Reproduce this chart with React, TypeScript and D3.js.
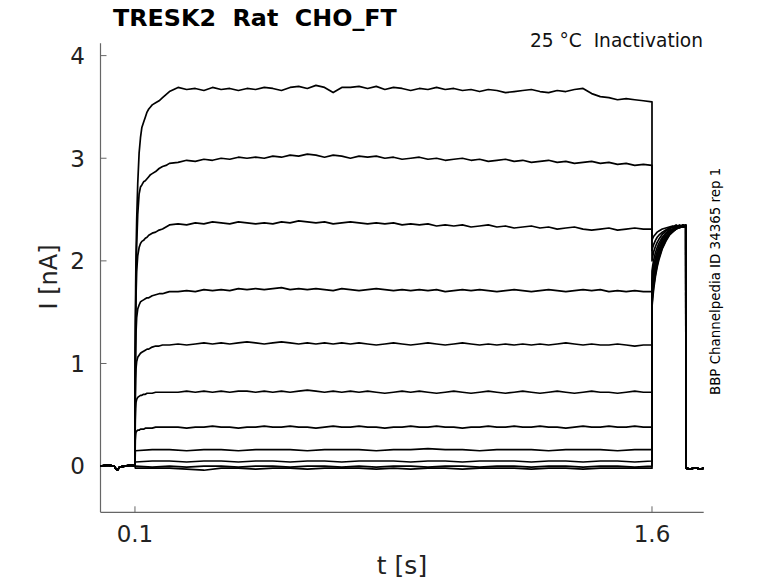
import React from 'react';
import * as d3 from 'd3';

// baseline before the step (shared by all sweeps)
const preTimes = [0, 0.02, 0.04, 0.045, 0.05, 0.055, 0.07, 0.09, 0.1];
const preValues = [0.0, 0.01, 0.0, -0.03, -0.035, -0.01, 0.0, 0.01, 0.0];

// sampling grid of the big sweeps during the step
const stepTimes = [
  0.1, 0.1005, 0.101, 0.102, 0.103, 0.105, 0.108, 0.112, 0.116, 0.12,
  0.125, 0.13, 0.135, 0.14, 0.145, 0.15, 0.16, 0.17, 0.18, 0.19, 0.2,
  0.225, 0.25, 0.275, 0.3, 0.325, 0.35, 0.375, 0.4, 0.425, 0.45,
  0.475, 0.5, 0.525, 0.55, 0.575, 0.6, 0.625, 0.65, 0.675, 0.7,
  0.725, 0.75, 0.775, 0.8, 0.825, 0.85, 0.875, 0.9, 0.925, 0.95,
  0.975, 1.0, 1.025, 1.05, 1.075, 1.1, 1.125, 1.15, 1.175, 1.2,
  1.225, 1.25, 1.275, 1.3, 1.325, 1.35, 1.375, 1.4, 1.425, 1.45,
  1.475, 1.5, 1.525, 1.55, 1.575, 1.6,
];

const sweep1 = [
  0, 0.8, 1.3, 1.75, 2.05, 2.4, 2.75, 3.05, 3.2, 3.3,
  3.35, 3.4, 3.45, 3.48, 3.5, 3.52, 3.54, 3.56, 3.59, 3.62, 3.65,
  3.69, 3.67, 3.68, 3.66, 3.69, 3.67, 3.68, 3.66, 3.68, 3.67,
  3.69, 3.68, 3.66, 3.69, 3.70, 3.68, 3.71, 3.69, 3.64, 3.69,
  3.69, 3.70, 3.68, 3.70, 3.67, 3.69, 3.68, 3.66, 3.68, 3.67,
  3.69, 3.67, 3.68, 3.66, 3.67, 3.65, 3.67, 3.66, 3.64, 3.65,
  3.66, 3.67, 3.65, 3.64, 3.66, 3.65, 3.67, 3.68, 3.63, 3.60,
  3.59, 3.57, 3.58, 3.57, 3.56, 3.55,
];
const sweep2 = [
  0, 0.7, 1.1, 1.5, 1.8, 2.15, 2.45, 2.65, 2.72, 2.74,
  2.77, 2.78, 2.8, 2.82, 2.84, 2.85, 2.87, 2.9, 2.92, 2.93, 2.95,
  2.96, 2.98, 2.97, 2.99, 2.98, 3.0, 2.99, 3.01, 3.0, 3.01,
  3.0, 3.02, 3.01, 3.03, 3.02, 3.04, 3.03, 3.01, 3.03, 3.02,
  3.0, 3.02, 3.01, 3.02, 3.0, 3.01, 2.99, 3.0, 3.01, 2.99,
  3.0, 2.98, 2.99, 3.0, 2.98, 2.99, 2.97, 2.98, 2.99, 2.97,
  2.98, 2.96, 2.97, 2.98, 2.96, 2.97, 2.95, 2.96, 2.97, 2.95,
  2.96, 2.94, 2.95, 2.93, 2.94, 2.93,
];
const sweep3 = [
  0, 0.6, 1.0, 1.4, 1.65, 1.9, 2.05, 2.13, 2.17, 2.19,
  2.2, 2.22, 2.23, 2.25, 2.26, 2.27, 2.28, 2.3, 2.31, 2.33, 2.35,
  2.36, 2.35, 2.37, 2.36, 2.38, 2.37, 2.36, 2.38, 2.37, 2.36,
  2.37, 2.36, 2.38, 2.37, 2.39, 2.38, 2.37, 2.38, 2.36, 2.37,
  2.38, 2.37, 2.36, 2.37, 2.36, 2.37, 2.35, 2.36, 2.35, 2.36,
  2.34, 2.35, 2.34, 2.35, 2.33, 2.34, 2.35, 2.33, 2.34, 2.32,
  2.33, 2.34, 2.32, 2.33, 2.31, 2.32, 2.33, 2.31, 2.30, 2.31,
  2.32, 2.30, 2.31, 2.32, 2.31, 2.31,
];
const sweep4 = [
  0, 0.5, 0.85, 1.15, 1.3, 1.45, 1.53, 1.57, 1.6, 1.61,
  1.62, 1.63, 1.64, 1.64, 1.65, 1.66, 1.67, 1.68, 1.68, 1.69, 1.7,
  1.70, 1.71, 1.70, 1.72, 1.71, 1.72, 1.71, 1.73, 1.72, 1.73,
  1.72, 1.73, 1.74, 1.72, 1.73, 1.72, 1.73, 1.72, 1.71, 1.73,
  1.72, 1.71, 1.72, 1.73, 1.72, 1.71, 1.72, 1.71, 1.72, 1.71,
  1.72, 1.70, 1.71, 1.72, 1.71, 1.72, 1.71, 1.70, 1.71, 1.72,
  1.71, 1.70, 1.71, 1.72, 1.71, 1.70, 1.71, 1.72, 1.71, 1.72,
  1.70, 1.71, 1.70, 1.71, 1.70, 1.70,
];
const sweep5 = [
  0, 0.4, 0.65, 0.85, 0.95, 1.02, 1.06, 1.08, 1.1, 1.11,
  1.12, 1.13, 1.14, 1.14, 1.15, 1.16, 1.17, 1.17, 1.18, 1.18, 1.18,
  1.19, 1.18, 1.19, 1.20, 1.19, 1.20, 1.19, 1.20, 1.21, 1.20,
  1.19, 1.20, 1.21, 1.20, 1.19, 1.20, 1.19, 1.20, 1.19, 1.20,
  1.19, 1.20, 1.19, 1.18, 1.19, 1.20, 1.19, 1.18, 1.19, 1.20,
  1.19, 1.18, 1.19, 1.20, 1.19, 1.18, 1.19, 1.18, 1.19, 1.18,
  1.19, 1.18, 1.19, 1.18, 1.19, 1.20, 1.19, 1.18, 1.19, 1.18,
  1.18, 1.19, 1.18, 1.17, 1.18, 1.18,
];
const sweep6 = [
  0, 0.3, 0.45, 0.56, 0.62, 0.65, 0.67, 0.68, 0.69, 0.69,
  0.7, 0.7, 0.71, 0.71, 0.71, 0.71, 0.72, 0.72, 0.72, 0.72, 0.72,
  0.72, 0.73, 0.72, 0.73, 0.72, 0.73, 0.72, 0.73, 0.73, 0.72,
  0.73, 0.72, 0.73, 0.72, 0.73, 0.74, 0.73, 0.72, 0.73, 0.72,
  0.73, 0.72, 0.73, 0.72, 0.71, 0.72, 0.73, 0.72, 0.73, 0.72,
  0.71, 0.72, 0.73, 0.72, 0.71, 0.72, 0.73, 0.72, 0.71, 0.72,
  0.73, 0.72, 0.71, 0.72, 0.73, 0.72, 0.71, 0.72, 0.73, 0.72,
  0.72, 0.71, 0.72, 0.73, 0.72, 0.72,
];
const sweep7 = [
  0, 0.15, 0.25, 0.3, 0.33, 0.34, 0.35, 0.35, 0.36, 0.36,
  0.36, 0.37, 0.37, 0.37, 0.37, 0.37, 0.38, 0.38, 0.38, 0.38, 0.38,
  0.38, 0.37, 0.38, 0.38, 0.39, 0.38, 0.38, 0.37, 0.38, 0.38,
  0.39, 0.38, 0.38, 0.39, 0.38, 0.38, 0.37, 0.38, 0.39, 0.38,
  0.38, 0.39, 0.38, 0.38, 0.37, 0.38, 0.38, 0.39, 0.38, 0.38,
  0.39, 0.38, 0.38, 0.37, 0.38, 0.38, 0.39, 0.38, 0.38, 0.39,
  0.38, 0.38, 0.39, 0.38, 0.38, 0.37, 0.38, 0.39, 0.38, 0.38,
  0.39, 0.38, 0.38, 0.39, 0.38, 0.38,
];

// coarser grid for the small, flat sweeps
const flatTimes = [
  0.1, 0.101, 0.15, 0.2, 0.25, 0.3, 0.35, 0.4, 0.45, 0.5,
  0.55, 0.6, 0.65, 0.7, 0.75, 0.8, 0.85, 0.9, 0.95, 1.0,
  1.05, 1.1, 1.15, 1.2, 1.25, 1.3, 1.35, 1.4, 1.45, 1.5,
  1.55, 1.6,
];
const sweep8 = [
  0, 0.15, 0.16, 0.16, 0.15, 0.16, 0.16, 0.15, 0.16, 0.16,
  0.16, 0.15, 0.16, 0.16, 0.16, 0.15, 0.16, 0.16, 0.17, 0.16,
  0.16, 0.15, 0.16, 0.16, 0.16, 0.15, 0.16, 0.16, 0.16, 0.15,
  0.16, 0.16,
];
const sweep9 = [
  0, 0.04, 0.05, 0.05, 0.04, 0.05, 0.05, 0.04, 0.05, 0.05,
  0.04, 0.05, 0.05, 0.04, 0.05, 0.05, 0.05, 0.04, 0.05, 0.05,
  0.04, 0.05, 0.05, 0.05, 0.04, 0.05, 0.05, 0.04, 0.05, 0.05,
  0.04, 0.05,
];
const sweep10 = [
  0, 0.0, -0.01, 0.0, -0.01, 0.0, 0.0, -0.01, 0.0, 0.0,
  -0.01, 0.0, 0.0, -0.01, 0.0, -0.01, 0.0, 0.0, -0.01, 0.0,
  0.0, -0.01, 0.0, 0.0, -0.01, 0.0, 0.0, -0.01, 0.0, 0.0,
  -0.01, 0.0,
];
const sweep11 = [
  0, -0.02, -0.02, -0.02, -0.03, -0.04, -0.02, -0.02, -0.03, -0.02,
  -0.02, -0.03, -0.02, -0.02, -0.02, -0.03, -0.02, -0.03, -0.02, -0.02,
  -0.03, -0.02, -0.02, -0.02, -0.03, -0.02, -0.02, -0.03, -0.02, -0.02,
  -0.02, -0.02,
];

// tail after the step
const tailTimes = [1.6, 1.602, 1.605, 1.61, 1.615, 1.62, 1.63, 1.64, 1.65, 1.66, 1.67, 1.68, 1.69, 1.698];
const tail1 = [2.20, 2.22, 2.24, 2.26, 2.28, 2.29, 2.31, 2.32, 2.33, 2.34, 2.33, 2.35, 2.33, 2.34];
const tail2 = [2.10, 2.13, 2.16, 2.20, 2.23, 2.25, 2.28, 2.30, 2.32, 2.33, 2.35, 2.33, 2.34, 2.33];
const tail3 = [2.00, 2.04, 2.09, 2.14, 2.18, 2.21, 2.26, 2.29, 2.31, 2.33, 2.32, 2.34, 2.35, 2.33];
const tail4 = [1.90, 1.95, 2.01, 2.08, 2.13, 2.17, 2.23, 2.27, 2.30, 2.31, 2.33, 2.34, 2.33, 2.35];
const tail5 = [1.82, 1.88, 1.95, 2.03, 2.09, 2.14, 2.21, 2.26, 2.29, 2.31, 2.32, 2.34, 2.33, 2.34];
const tail6 = [1.75, 1.82, 1.90, 1.99, 2.06, 2.11, 2.19, 2.24, 2.28, 2.30, 2.33, 2.32, 2.34, 2.33];
const tail7 = [1.70, 1.77, 1.86, 1.96, 2.03, 2.09, 2.17, 2.23, 2.27, 2.30, 2.31, 2.33, 2.34, 2.35];
const tail8 = [1.65, 1.73, 1.82, 1.93, 2.01, 2.07, 2.16, 2.22, 2.26, 2.29, 2.31, 2.33, 2.35, 2.34];
const tail9 = [1.62, 1.70, 1.79, 1.90, 1.98, 2.05, 2.14, 2.21, 2.26, 2.29, 2.32, 2.33, 2.34, 2.35];
const tail10 = [1.58, 1.66, 1.76, 1.87, 1.96, 2.03, 2.13, 2.20, 2.25, 2.29, 2.31, 2.34, 2.33, 2.34];
const tail11 = [1.55, 1.63, 1.73, 1.85, 1.94, 2.01, 2.12, 2.19, 2.25, 2.28, 2.31, 2.33, 2.35, 2.33];

// back to holding
const offTimes = [1.6985, 1.71, 1.72, 1.73, 1.74, 1.75];
const offValues = [-0.02, -0.03, -0.02, -0.02, -0.03, -0.02];

const xTicks = [0.1, 1.6];
const yTicks = [0, 1, 2, 3, 4];

const font = '"DejaVu Sans", sans-serif';

const zip = (ts: number[], vs: number[]) => ts.map((t, i) => [t, vs[i]] as [number, number]);

const App: React.FC = () => {
  const x = d3.scaleLinear().domain([0, 1.75]).range([100.5, 703.7]);
  const y = d3.scaleLinear().domain([-0.45, 4.12]).range([512.3, 43.3]);

  const line = d3.line<[number, number]>()
    .x(d => x(d[0]))
    .y(d => y(d[1]));

  const stepSweeps = [sweep1, sweep2, sweep3, sweep4, sweep5, sweep6, sweep7];
  const flatSweeps = [sweep8, sweep9, sweep10, sweep11];
  const tails = [tail1, tail2, tail3, tail4, tail5, tail6, tail7, tail8, tail9, tail10, tail11];

  const sweeps = [
    ...stepSweeps.map(v => zip(stepTimes, v)),
    ...flatSweeps.map(v => zip(flatTimes, v)),
  ].map((mid, i) => [
    ...zip(preTimes, preValues),
    ...mid,
    ...zip(tailTimes, tails[i]),
    ...zip(offTimes, offValues),
  ]);

  const axisColor = '#666';
  const left = x(0);
  const bottom = y(-0.45);

  return (
    <svg width={778} height={583} style={{ position: 'absolute', left: 0, top: 0, background: '#fff' }}>
      <rect width={778} height={583} fill="#fff" />
      {/* axes */}
      <line x1={left} x2={left} y1={y(4.12)} y2={bottom} stroke={axisColor} strokeWidth={1.2} />
      <line x1={left} x2={x(1.75)} y1={bottom} y2={bottom} stroke={axisColor} strokeWidth={1.2} />
      {yTicks.map(t => (
        <g key={'y' + t}>
          <line x1={left} x2={left + 6} y1={y(t)} y2={y(t)} stroke={axisColor} strokeWidth={1} />
          <text x={85} y={y(t)} dy="0.36em" textAnchor="end" fontFamily={font} fontSize={23} fill="#222">{t}</text>
        </g>
      ))}
      {xTicks.map(t => (
        <g key={'x' + t}>
          <line x1={x(t)} x2={x(t)} y1={bottom} y2={bottom - 6} stroke={axisColor} strokeWidth={1} />
          <text x={x(t)} y={542} textAnchor="middle" fontFamily={font} fontSize={23} fill="#222">{t}</text>
        </g>
      ))}

      {/* sweeps */}
      {sweeps.map((s, i) => (
        <path key={i} d={line(s) || ''} fill="none" stroke="#000" strokeWidth={1.7} strokeLinejoin="round" />
      ))}

      {/* labels */}
      <text x={113} y={26} fontFamily={font} fontWeight="bold" fontSize={23.8} fill="#000" style={{ whiteSpace: 'pre' }}>
        TRESK2  Rat  CHO_FT
      </text>
      <text x={703} y={47} textAnchor="end" fontFamily={font} fontSize={18.6} fill="#111" style={{ whiteSpace: 'pre' }}>
        25 °C  Inactivation
      </text>
      <text transform="translate(57,277) rotate(-90)" textAnchor="middle" fontFamily={font} fontSize={24} fill="#222">
        I [nA]
      </text>
      <text x={402} y={574} textAnchor="middle" fontFamily={font} fontSize={25} fill="#222">
        t [s]
      </text>
      <text transform="translate(720,395) rotate(-90)" fontFamily={font} fontSize={13.4} fill="#000">
        BBP Channelpedia ID 34365 rep 1
      </text>
    </svg>
  );
};

export default App;
